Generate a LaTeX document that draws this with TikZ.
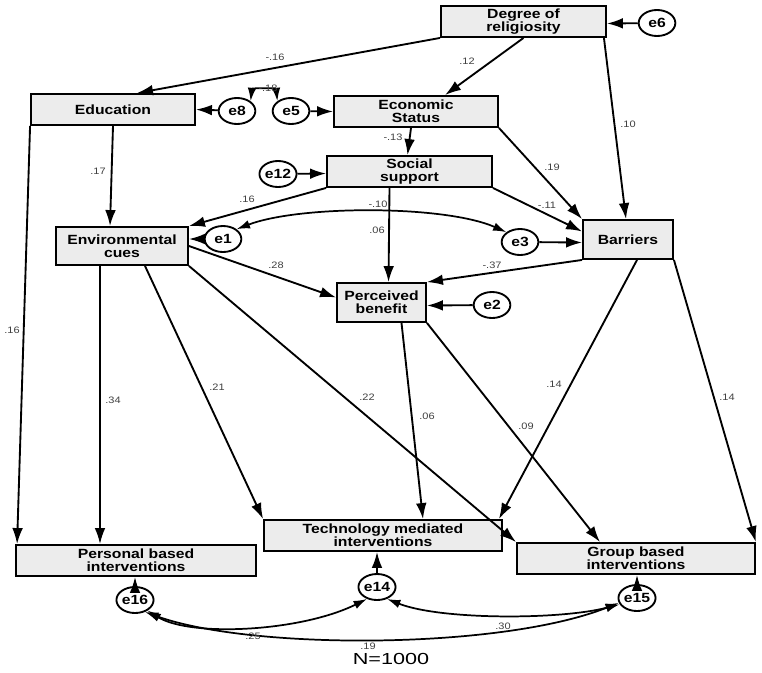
\documentclass[tikz,border=0pt]{standalone}
\usepackage{fontspec}
\setmainfont{Liberation Sans}
\newfontfamily\semfont[FakeStretch=1.18]{Liberation Sans}
\newfontfamily\nfont[FakeStretch=1.35]{Liberation Sans}
\usepackage{tikz}
\usetikzlibrary{calc}
\usetikzlibrary{shapes.geometric, arrows.meta}
\definecolor{boxgray}{RGB}{236,236,236}
\tikzstyle{arrow} = [line width=1.4pt,->,>={Latex[length=12pt,width=8pt]}]
\tikzstyle{twoway} = [line width=1.3pt,<->,>={Latex[length=10pt,width=6.5pt]}]
\tikzstyle{var} = [draw, line width=1.4pt, fill=boxgray, align=center, inner sep=1pt, font=\semfont\bfseries\fontsize{10}{10}\selectfont]
\tikzstyle{err} = [ellipse, draw, line width=1.4pt, fill=white, minimum width=27.5pt, minimum height=19.5pt, inner sep=0pt, font=\semfont\bfseries\fontsize{10}{10}\selectfont]
\tikzstyle{coef} = [inner sep=0.75pt, text=black!75, font=\semfont\fontsize{7}{7}\selectfont]

\begin{document}
\begin{tikzpicture}[x=0.75pt,y=0.75pt,yscale=-1,xscale=1]
\useasboundingbox (0,0) rectangle (762,672);

%Shape: Rectangle [observed variables]
\node [var, minimum width=123.75pt, minimum height=23.25pt] (rel) at (523.5,21.5) {Degree of\\religiosity};
\node [var, minimum width=123pt, minimum height=23.25pt] (edu) at (113,109.5) {Education};
\node [var, minimum width=123pt, minimum height=23.25pt] (eco) at (416,111.5) {Economic\\Status};
\node [var, minimum width=123.75pt, minimum height=23.25pt] (soc) at (409.5,171.5) {Social\\support};
\node [var, minimum width=99pt, minimum height=28.5pt] (env) at (122,246) {Environmental\\cues};
\node [var, minimum width=67.5pt, minimum height=29.25pt] (bar) at (628,239.5) {Barriers};
\node [var, minimum width=66.75pt, minimum height=29.25pt] (ben) at (381.5,302.5) {Perceived\\benefit};
\node [var, minimum width=178.5pt, minimum height=23.25pt] (tech) at (383,535.5) {Technology mediated\\interventions};
\node [var, minimum width=180pt, minimum height=23.25pt] (pers) at (136,560.5) {Personal based\\interventions};
\node [var, minimum width=178.5pt, minimum height=23.25pt] (grp) at (636,558.5) {Group based\\interventions};

%Shape: Ellipse [error terms]
\node [err] (e6) at (657,23) {e6};
\node [err] (e8) at (237,111) {e8};
\node [err] (e5) at (291,111) {e5};
\node [err] (e12) at (278,174) {e12};
\node [err] (e1) at (223,239) {e1};
\node [err] (e3) at (520,242) {e3};
\node [err] (e2) at (492,305) {e2};
\node [err] (e14) at (377,587) {e14};
\node [err] (e16) at (135,600) {e16};
\node [err] (e15) at (637,598) {e15};

%Straight Lines [paths]
\draw [arrow] (rel.south west) -- ($(edu.north)+(24,0)$);
\draw [arrow] (rel.south) -- ($(eco.north)+(29,0)$);
\draw [arrow] ($(rel.south east)+(-3,0)$) -- ($(bar.north)+(-2,0)$);
\draw [arrow] (edu.south) -- ($(env.north)+(-12,0)$);
\draw [arrow] (edu.south west) -- ($(pers.north west)+(2,0)$);
\draw [arrow] ($(eco.south)+(-5,0)$) -- ($(soc.north)+(-2,0)$);
\draw [arrow] (eco.south east) -- (bar.north west);
\draw [arrow] (soc.south west) -- (env.north east);
\draw [arrow] ($(soc.south)+(-20,0)$) -- ($(ben.north)+(7,0)$);
\draw [arrow] (soc.south east) -- ($(bar.west)+(0,-8)$);
\draw [arrow] (env.east) -- ($(ben.west)+(0,-5)$);
\draw [arrow] (bar.south west) -- (ben.north east);
\draw [arrow] ($(env.south)+(-22,0)$) -- ($(pers.north)+(-36,0)$);
\draw [arrow] ($(env.south)+(23,0)$) -- (tech.north west);
\draw [arrow] (env.south east) -- (grp.north west);
\draw [arrow] ($(ben.south)+(20,0)$) -- ($(tech.north)+(40,0)$);
\draw [arrow] (ben.south east) -- ($(grp.north)+(-36,0)$);
\draw [arrow] ($(bar.south)+(9,0)$) -- ($(tech.north east)+(-4,0)$);
\draw [arrow] (bar.south east) -- (grp.north east);

%Straight Lines [error to variable]
\draw [arrow] (e6) -- ($(rel.east)+(0,2)$);
\draw [arrow] (e8) -- (edu.east);
\draw [arrow] (e5) -- (eco.west);
\draw [arrow] (e12) -- ($(soc.west)+(0,2)$);
\draw [arrow] (e1) -- ($(env.east)+(0,-7)$);
\draw [arrow] (e3) -- ($(bar.west)+(0,3)$);
\draw [arrow] (e2) -- ($(ben.east)+(0,3)$);
\draw [arrow] (e14) -- (e14 |- tech.south);
\draw [arrow] (e16) -- (e16 |- pers.south);
\draw [arrow] (e15) -- (e15 |- grp.south);

%Curve Lines [covariances]
\draw [twoway] (e8.north east) .. controls (252,88) and (276,88) .. (e5.north west);
\draw [twoway] (e1.north east) .. controls (300,205) and (445,205) .. (e3.north west);
\draw [twoway] (e16.-40) .. controls (190,637) and (300,632) .. (e14.-130);
\draw [twoway] (e14.-50) .. controls (440,620) and (560,620) .. (e15.-160);
\draw [twoway] (e16.-50) .. controls (250,650) and (500,650) .. (e15.-165);

% Text Node
\node [coef] (c1) at (275,57) {-.16};
\node [coef] (c2) at (268,88) {-.18};
\node [coef] (c3) at (467,61) {.12};
\node [coef] (c4) at (628,124) {.10};
\node [coef] (c5) at (98,171) {.17};
\node [coef] (c6) at (393,137) {-.13};
\node [coef] (c7) at (552,167) {.19};
\node [coef] (c8) at (247,199) {.16};
\node [coef] (c9) at (378,204) {-.10};
\node [coef] (c10) at (377,230) {.06};
\node [coef] (c11) at (547,205) {-.11};
\node [coef] (c12) at (276,265) {.28};
\node [coef] (c13) at (492,265) {-.37};
\node [coef] (c14) at (12,330) {.16};
\node [coef] (c15) at (113,400) {.34};
\node [coef] (c16) at (217,387) {.21};
\node [coef] (c17) at (367,397) {.22};
\node [coef] (c18) at (427,416) {.06};
\node [coef] (c19) at (526,426) {.09};
\node [coef] (c20) at (554,384) {.14};
\node [coef] (c21) at (727,397) {.14};
\node [coef] (c22) at (253,636) {.25};
\node [coef] (c23) at (503,626) {.30};
\node [coef] (c24) at (368,646) {.19};
% Text Node
\node [inner sep=0.75pt, font=\nfont\fontsize{12}{12}\selectfont] (nsize) at (391,659) {N=1000};

\end{tikzpicture}
\end{document}
